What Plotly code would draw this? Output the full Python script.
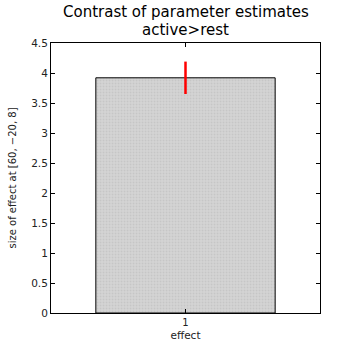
import plotly.graph_objects as go

categories = [1]
values = [3.92]
errors = [0.27]
y_ticks = [0, 0.5, 1, 1.5, 2, 2.5, 3, 3.5, 4, 4.5]
y_tick_labels = ["0", "0.5", "1", "1.5", "2", "2.5", "3", "3.5", "4", "4.5"]
title_lines = ["Contrast of parameter estimates", "active>rest"]

fig = go.Figure()
fig.add_trace(go.Bar(
    x=categories, y=values, width=0.8,
    marker=dict(color="#d4d4d4", line=dict(color="black", width=1),
                pattern=dict(shape=".", fgcolor="#b8b8b8", size=3, solidity=0.3)),
    showlegend=False,
))
fig.add_trace(go.Scatter(
    x=[categories[0], categories[0]],
    y=[values[0] - errors[0], values[0] + errors[0]],
    mode="lines", line=dict(color="red", width=2.5), showlegend=False,
))

fig.update_layout(
    width=347, height=346,
    margin=dict(l=51, r=27, t=43, b=33),
    paper_bgcolor="white", plot_bgcolor="white",
    font=dict(family="DejaVu Sans", color="#222"),
)
for txt, yy in zip(title_lines, [1.115, 1.048]):
    fig.add_annotation(text=txt, xref="paper", yref="paper", x=0.5, y=yy,
                       xanchor="center", yanchor="middle", showarrow=False,
                       font=dict(size=15, color="black"))
fig.update_xaxes(
    range=[0.4, 1.6], tickvals=[1], ticktext=["1"],
    ticks="inside", ticklen=4, tickcolor="black",
    showline=True, linecolor="black", linewidth=1, mirror="ticks",
    showgrid=False, zeroline=False, automargin=False,
    tickfont=dict(size=10),
    title=dict(text="effect", font=dict(size=10.5), standoff=4),
)
fig.update_yaxes(
    range=[0, 4.5], tickvals=y_ticks, ticktext=y_tick_labels,
    ticks="inside", ticklen=4, tickcolor="black",
    showline=True, linecolor="black", linewidth=1, mirror="ticks",
    showgrid=False, zeroline=False, automargin=False,
    tickfont=dict(size=10.5),
    title=dict(text="size of effect at [60, −20, 8]", font=dict(size=10), standoff=12),
)
fig.write_html("out.html")
